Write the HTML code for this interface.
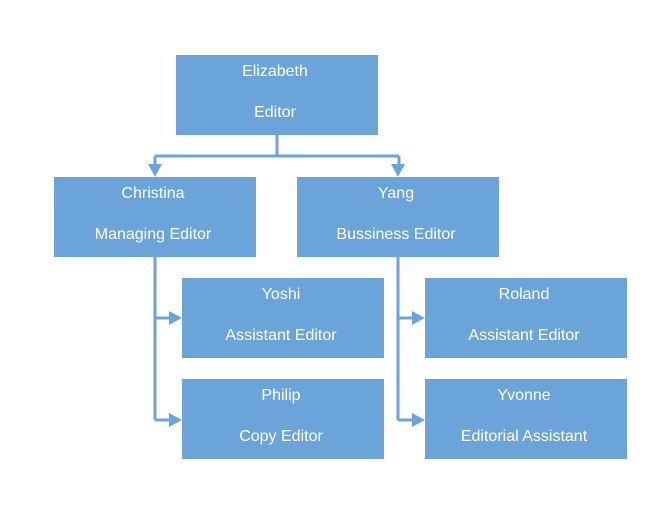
<!DOCTYPE html>
<html><head><style>
body{margin:0;background:#fff;}
.b{position:absolute;width:202px;height:80px;background:#6aa4d8;color:#fff;font-family:"Liberation Sans",sans-serif;font-size:16px;text-align:center;}
.b div{position:absolute;left:0;right:4px;}
.t1{top:8px}.t2{top:49px}
</style></head><body>
<div style="position:relative;width:664px;height:513px;overflow:hidden">
<svg width="664" height="513" style="position:absolute;left:0;top:0">
<g stroke="#6aa4d8" stroke-width="3" fill="none">
<path d="M277 135V156M155 156H399M155 156V167M399 156V167"/>
<path d="M155 257V420M155 318H170M155 420H170"/>
<path d="M398 257V420M398 318H413M398 420H413"/>
</g>
<g fill="#6aa4d8">
<polygon points="148,164 162,164 155,177"/>
<polygon points="391,164 405,164 398,177"/>
<polygon points="169,311 169,325 182,318"/>
<polygon points="169,413 169,427 182,420"/>
<polygon points="412,311 412,325 425,318"/>
<polygon points="412,413 412,427 425,420"/>
</g>
</svg>
<div class="b" style="left:176px;top:55px"><div class="t1">Elizabeth</div><div class="t2">Editor</div></div>
<div class="b" style="left:54px;top:177px"><div class="t1">Christina</div><div class="t2">Managing Editor</div></div>
<div class="b" style="left:297px;top:177px"><div class="t1">Yang</div><div class="t2">Bussiness Editor</div></div>
<div class="b" style="left:182px;top:278px"><div class="t1">Yoshi</div><div class="t2">Assistant Editor</div></div>
<div class="b" style="left:182px;top:379px"><div class="t1">Philip</div><div class="t2">Copy Editor</div></div>
<div class="b" style="left:425px;top:278px"><div class="t1">Roland</div><div class="t2">Assistant Editor</div></div>
<div class="b" style="left:425px;top:379px"><div class="t1">Yvonne</div><div class="t2">Editorial Assistant</div></div>
</div>
</body></html>
